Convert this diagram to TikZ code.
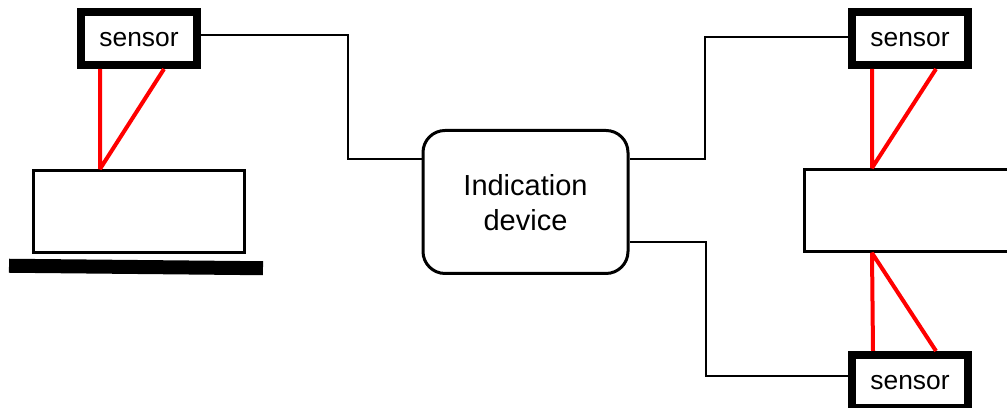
\documentclass[tikz,border=0pt]{standalone}
\usepackage{fontspec}
\setmainfont{Liberation Sans}
\tikzset{
  sensorbox/.style={draw=black,line width=0.08cm,fill=white,inner sep=0pt,minimum width=1.16cm,minimum height=0.53cm,text height=0.167cm,font=\fontsize{7.5pt}{9pt}\selectfont},
  objbox/.style={draw=black,line width=0.03cm,fill=white,inner sep=0pt,minimum width=2.1cm,minimum height=0.82cm},
  devbox/.style={draw=black,line width=0.03cm,rounded corners=0.22cm,fill=white,inner sep=0pt,minimum width=2.05cm,minimum height=1.43cm,align=center,font=\fontsize{8.25pt}{9.9pt}\selectfont},
  beam/.style={draw=red,line width=0.04cm,line join=bevel},
  wire/.style={draw=black,line width=0.012cm}
}
\begin{document}
\begin{tikzpicture}
\useasboundingbox (0,0) rectangle (10.07,4.08);

\node[objbox] (obj1) at (1.39,1.965) {};
\node[fill=black,inner sep=0pt,minimum width=2.54cm,minimum height=0.14cm,rotate=-0.56] (plate) at (1.36,1.41) {};
\node[objbox] (obj2) at (9.095,1.975) {};

\node[sensorbox] (s1) at (1.39,3.695) {sensor};
\node[sensorbox] (s2) at (9.10,3.695) {sensor};
\node[sensorbox] (s3) at (9.10,0.265) {sensor};

\node[devbox] (dev) at (5.255,2.06) {\rule{0pt}{0.228cm}Indication\\device};

% red beams
\coordinate (a1) at (1.00,2.39);
\coordinate (a2) at (8.72,2.40);
\coordinate (a3) at (8.72,1.55);
\draw[beam] ([xshift=-0.39cm]s1.south) -- (a1) -- ([xshift=0.25cm]s1.south);
\draw[beam] ([xshift=-0.38cm]s2.south) -- (a2) -- ([xshift=0.26cm]s2.south);
\draw[beam] ([xshift=-0.37cm]s3.north) -- (a3) -- ([xshift=0.26cm]s3.north);

% wires
\draw[wire] ([yshift=0.035cm]s1.east) -- ++(1.47,0) |- ([yshift=0.43cm]dev.west);
\draw[wire] ([yshift=0.015cm]s2.west) -- ++(-1.43,0) |- ([yshift=0.43cm]dev.east);
\draw[wire] ([yshift=0.055cm]s3.west) -- ++(-1.42,0) |- ([yshift=-0.40cm]dev.east);

\end{tikzpicture}
\end{document}
